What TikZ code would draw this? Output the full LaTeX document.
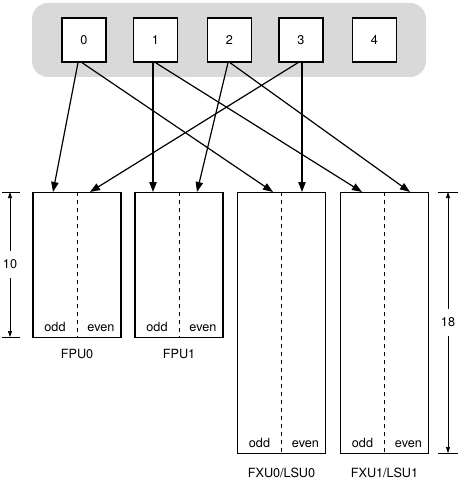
\documentclass[tikz,border=0pt]{standalone}
\usepackage{fontspec}
\setmainfont{TeX Gyre Heros}
\usetikzlibrary{arrows.meta, positioning, calc}

\begin{document}
\begin{tikzpicture}[x=0.75pt, y=-0.75pt, >={Triangle[length=7.5pt, width=5.5pt]},
    reg/.style={draw, line width=1pt, fill=white, minimum size=33pt, inner sep=0pt},
    unit/.style={draw, line width=1pt, minimum width=66pt, anchor=north},
    flow/.style={->, line width=0.9pt},
    dim/.style={<->, >={Triangle[length=4.5pt, width=3pt]}, line width=0.5pt},
    font=\fontsize{9.5}{11}\selectfont]

    \useasboundingbox (0,0) rectangle (458,481);

    % Register file
    \fill[gray!30, rounded corners=12pt] (32,3) rectangle (426,77);
    \foreach \i/\x in {0/84, 1/155.5, 2/229.5, 3/301, 4/374.5}
      \node[reg] (reg\i) at (\x,40) {\i};

    % Execution units
    \node[unit, minimum height=108.75pt] (fpu0) at (77,192) {};
    \node[unit, minimum height=108.75pt] (fpu1) at (179,192) {};
    \node[unit, minimum height=195.75pt] (fxu0) at (281.5,192) {};
    \node[unit, minimum height=195.75pt] (fxu1) at (384.5,192) {};

    % Odd / even halves
    \foreach \u in {fpu0, fpu1, fxu0, fxu1} {
      \draw[dashed, line width=0.4pt] (\u.north) -- (\u.south);
      \node[anchor=base] at ($(\u.south)+(-22,-7)$) {odd};
      \node[anchor=base] at ($(\u.south)+(24,-7)$) {even};
    }

    % Unit names
    \node at ($(fpu0.south)+(0,16)$) {FPU0};
    \node at ($(fpu1.south)+(0,16)$) {FPU1};
    \node at ($(fxu0.south)+(0,19)$) {FXU0/LSU0};
    \node at ($(fxu1.south)+(0,19)$) {FXU1/LSU1};

    % Register to unit paths
    \draw[flow] ($(reg0.south)+(-6,0)$) -- ($(fpu0.north)+(-24,0)$);
    \draw[flow] ($(reg0.south)+(-2,0)$) -- ($(fxu0.north)+(-8.5,0)$);
    \draw[flow] ($(reg1.south)+(-2.5,0)$) -- ($(fpu1.north)+(-26,0)$);
    \draw[flow] ($(reg1.south)+(0,0)$) -- ($(fxu1.north)+(-22.5,0)$);
    \draw[flow] ($(reg2.south)+(-1.5,0)$) -- ($(fpu1.north)+(18,0)$);
    \draw[flow] ($(reg2.south)+(0.5,0)$) -- ($(fxu1.north)+(25.5,0)$);
    \draw[flow] ($(reg3.south)+(-3,0)$) -- ($(fpu0.north)+(13,0)$);
    \draw[flow] ($(reg3.south)+(1,0)$) -- ($(fxu0.north)+(20.5,0)$);

    % Dimensions
    \draw[line width=0.5pt] (2,192) -- (20,192);
    \draw[line width=0.5pt] (2,337) -- (20,337);
    \draw[dim] (10,192) -- node[fill=white, inner xsep=1pt, inner ysep=7pt] {10} (10,337);
    \draw[line width=0.5pt] (438,192) -- (458,192);
    \draw[line width=0.5pt] (438,453) -- (458,453);
    \draw[dim] (448,192) -- node[fill=white, inner xsep=1pt, inner ysep=7pt] {18} (448,453);

\end{tikzpicture}
\end{document}
